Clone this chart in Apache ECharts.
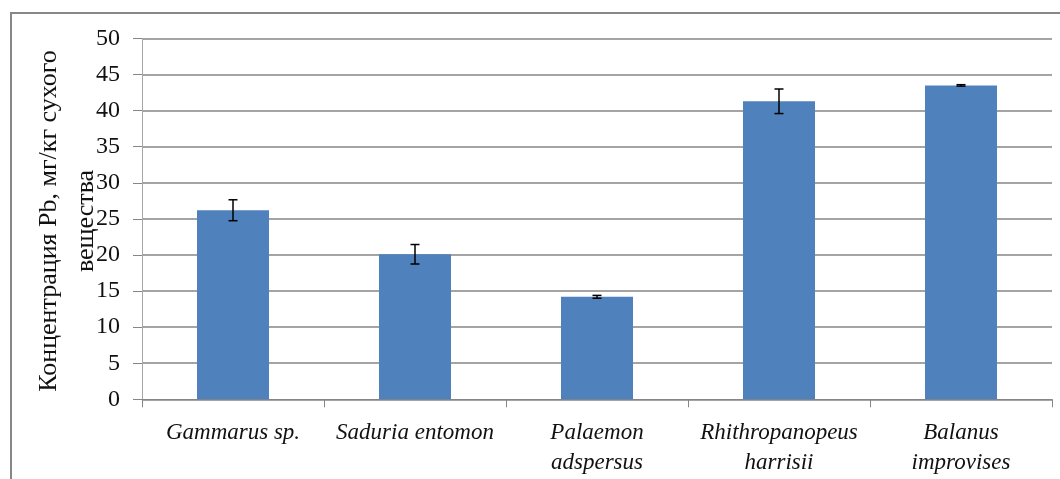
<!DOCTYPE html>
<html>
<head>
<meta charset="utf-8">
<script src="https://cdn.jsdelivr.net/npm/echarts@6/dist/echarts.min.js"></script>
<style>
  html, body { margin: 0; padding: 0; background: #fff; }
  #chart { width: 1060px; height: 479px; }
</style>
</head>
<body>
<div id="chart"></div>
<script>
// Species and their Pb concentrations (mg/kg dry weight)
const categories = ['Gammarus sp.', 'Saduria entomon', 'Palaemon\nadspersus', 'Rhithropanopeus\nharrisii', 'Balanus\nimprovises'];
const means = [26.2, 20.1, 14.2, 41.3, 43.5];
const errors = [1.45, 1.35, 0.2, 1.7, 0.1];
const yTicks = [0, 5, 10, 15, 20, 25, 30, 35, 40, 45, 50];
const yTitle = 'Концентрация Pb, мг/кг сухого\nвещества';

const chart = echarts.init(document.getElementById('chart'));

const errorData = means.map((m, i) => [i, m - errors[i], m + errors[i]]);

chart.setOption({
  animation: false,
  grid: { left: 142, right: 8, top: 38.5, bottom: 79.7, containLabel: false },
  xAxis: {
    type: 'category',
    data: categories,
    axisLine: { lineStyle: { color: '#868686', width: 1 } },
    axisTick: { show: true, length: 8, lineStyle: { color: '#868686' } },
    axisLabel: {
      interval: 0,
      color: '#111',
      fontFamily: 'Liberation Serif',
      fontStyle: 'italic',
      fontSize: 23,
      lineHeight: 30,
      margin: 19
    }
  },
  yAxis: {
    type: 'value',
    min: yTicks[0],
    max: yTicks[yTicks.length - 1],
    interval: yTicks[1] - yTicks[0],
    axisLine: { show: true, lineStyle: { color: '#a6a6a6', width: 1 } },
    axisTick: { show: true, length: 9, lineStyle: { color: '#868686' } },
    axisLabel: {
      color: '#111',
      fontFamily: 'Liberation Serif',
      fontSize: 24,
      margin: 22
    },
    splitLine: { lineStyle: { color: '#868686', width: 1.5 } }
  },
  series: [
    {
      type: 'bar',
      data: means,
      barWidth: 72,
      itemStyle: { color: '#4F81BD' }
    },
    {
      type: 'custom',
      data: errorData,
      z: 10,
      renderItem: function (params, api) {
        const x = api.value(0);
        const lo = api.coord([x, api.value(1)]);
        const hi = api.coord([x, api.value(2)]);
        const cap = 4.5;
        const style = { stroke: '#000', lineWidth: 1.5 };
        return {
          type: 'group',
          children: [
            { type: 'line', shape: { x1: hi[0], y1: hi[1], x2: lo[0], y2: lo[1] }, style: style },
            { type: 'line', shape: { x1: hi[0] - cap, y1: hi[1], x2: hi[0] + cap, y2: hi[1] }, style: style },
            { type: 'line', shape: { x1: lo[0] - cap, y1: lo[1], x2: lo[0] + cap, y2: lo[1] }, style: style }
          ]
        };
      }
    }
  ],
  graphic: [
    {
      type: 'rect',
      shape: { x: 11, y: 13, width: 1080, height: 500 },
      style: { fill: 'none', stroke: '#878787', lineWidth: 2 },
      silent: true
    },
    {
      type: 'text',
      x: 68,
      y: 221,
      rotation: Math.PI / 2,
      style: {
        text: yTitle,
        fill: '#111',
        font: '26px "Liberation Serif"',
        lineHeight: 37,
        align: 'center',
        verticalAlign: 'middle'
      }
    }
  ]
});
</script>
</body>
</html>
